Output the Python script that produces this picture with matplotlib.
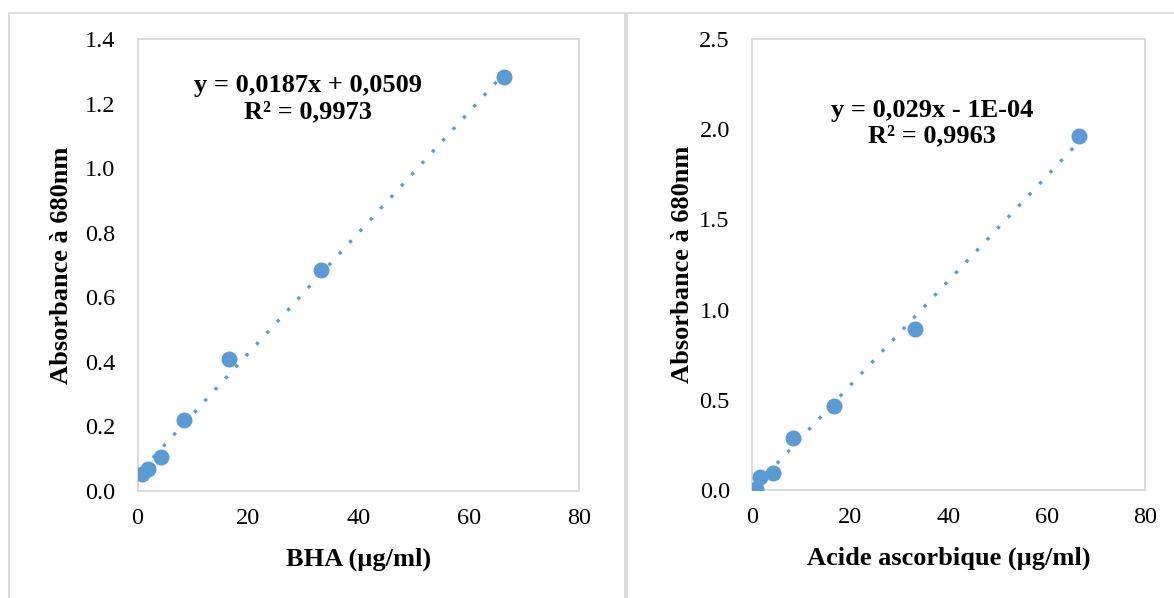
import matplotlib
matplotlib.use("Agg")
import matplotlib.pyplot as plt
import numpy as np
from matplotlib.patches import Rectangle

# BHA standard curve
bha_conc = [0.9, 1.9, 4.2, 8.4, 16.6, 33.2, 66.5]
bha_abs = [0.053, 0.068, 0.106, 0.220, 0.409, 0.684, 1.282]
bha_fit = (0.0187, 0.0509)

# ascorbic acid standard curve
asc_conc = [0.8, 1.6, 4.3, 8.35, 16.7, 33.2, 66.6]
asc_abs = [0.006, 0.074, 0.096, 0.290, 0.466, 0.890, 1.962]
asc_fit = (0.029, -0.0001)

bha_eq = "y = 0,0187x + 0,0509\nR² = 0,9973"
asc_eq = "y = 0,029x - 1E-04\nR² = 0,9963"

plt.rcParams['font.family'] = ['Liberation Serif', 'DejaVu Serif']

blue = '#5B9BD5'
grey = '#D9D9D9'
W, H = 1174, 598

fig = plt.figure(figsize=(W / 100, H / 100), dpi=100)
fig.patch.set_facecolor('white')

# outer chart frames
for x0, x1 in [(8.5, 624.5), (626.5, 1190)]:
    fig.add_artist(Rectangle((x0 / W, -0.1), (x1 - x0) / W, 1.1 - 13 / H,
                             transform=fig.transFigure, fill=False,
                             edgecolor=grey, lw=1.3))


def panel(rect, xs, ys, fit, eq, eq_pos, ymax, ystep, yfmt, xlabel, ylx):
    ax = fig.add_axes(rect)
    slope, icpt = fit
    xt = np.array([min(xs), max(xs)])
    ax.plot(xt, slope * xt + icpt, color=blue, lw=2.4,
            linestyle=(0, (1, 3.6)), zorder=2)
    ax.plot(xs, ys, 'o', color=blue, markersize=10.5, zorder=3)
    ax.set_xlim(0, 80)
    ax.set_ylim(0, ymax)
    ax.set_xticks(np.arange(0, 81, 20))
    ax.set_yticks(np.arange(0, ymax + 1e-9, ystep))
    ax.yaxis.set_major_formatter(plt.FormatStrFormatter(yfmt))
    ax.tick_params(axis='both', length=0, labelsize=17.5)
    ax.tick_params(axis='y', pad=16)
    ax.tick_params(axis='x', pad=12)
    for s in ax.spines.values():
        s.set_color(grey)
        s.set_linewidth(1.3)
    ax.set_xlabel(xlabel, fontsize=19, fontweight='bold')
    ax.set_ylabel('Absorbance à 680nm', fontsize=19, fontweight='bold')
    ax.xaxis.set_label_coords(0.5, -0.125)
    ax.yaxis.set_label_coords(ylx, 0.5)
    ax.text(eq_pos[0], eq_pos[1], eq, transform=ax.transAxes, ha='center',
            va='center', fontsize=19, fontweight='bold', linespacing=1.15)
    return ax


panel([137.5 / W, 1 - 491 / H, 441.5 / W, 452 / H], bha_conc, bha_abs,
      bha_fit, bha_eq, (0.387, 0.868), 1.4, 0.2, '%.1f', 'BHA (µg/ml)', -0.145)
panel([752 / W, 1 - 490 / H, 393 / W, 451 / H], asc_conc, asc_abs,
      asc_fit, asc_eq, (0.458, 0.814), 2.5, 0.5, '%.1f',
      'Acide ascorbique (µg/ml)', -0.148)

fig.savefig('out.png', dpi=100, facecolor='white')
